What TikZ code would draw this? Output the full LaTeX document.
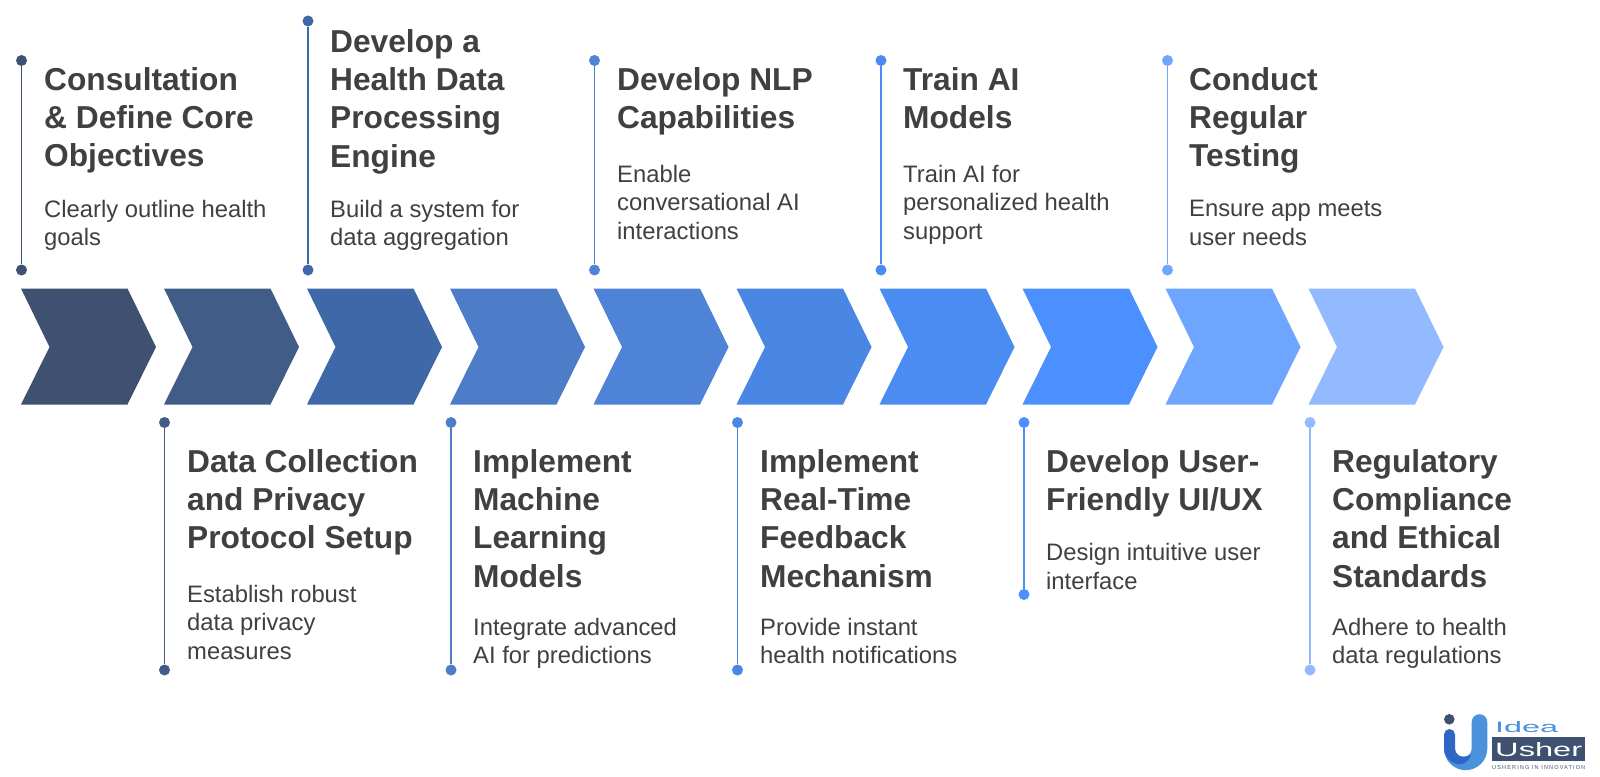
\documentclass[tikz,border=0pt]{standalone}
\usepackage{fontspec}
\setmainfont{Liberation Sans}
\definecolor{c0}{HTML}{3F5170}
\definecolor{c1}{HTML}{405C87}
\definecolor{c2}{HTML}{3F68A8}
\definecolor{c3}{HTML}{4D7DC8}
\definecolor{c4}{HTML}{4F83D8}
\definecolor{c5}{HTML}{4A86E3}
\definecolor{c6}{HTML}{4B8CF2}
\definecolor{c7}{HTML}{4C8FFF}
\definecolor{c8}{HTML}{6DA5FF}
\definecolor{c9}{HTML}{93B9FF}
\definecolor{ink}{HTML}{404040}
\definecolor{logoR}{HTML}{4A93DC}
\definecolor{logoL}{HTML}{2F66C4}
\tikzset{x=1pt,y=-1pt,
 chev/.style={fill=#1,draw=none},
 pin/.style={draw=#1,line width=1.8pt},
 dotb/.style={circle,fill=#1,inner sep=0pt,minimum size=11pt},
 ttl/.style={anchor=north west,align=left,text=ink,font=\fontsize{31.7}{38.3}\selectfont\bfseries,inner sep=0pt},
 dsc/.style={anchor=north west,align=left,text=ink,font=\fontsize{23.8}{28.5}\selectfont,inner sep=0pt},
}
\newcommand{\chevron}[2]{\fill[chev=#2] (#1+0,288.5)--(#1+106.5,288.5)--(#1+135,347)--(#1+106.5,404.5)--(#1+0,404.5)--(#1+28.5,347)--cycle;}
\begin{document}
\begin{tikzpicture}
\useasboundingbox (0,0) rectangle (1600,776);
\fill[white] (0,0) rectangle (1600,776);
\chevron{21}{c0}
\chevron{164}{c1}
\chevron{307}{c2}
\chevron{450}{c3}
\chevron{593.5}{c4}
\chevron{736.5}{c5}
\chevron{879.5}{c6}
\chevron{1022.5}{c7}
\chevron{1165.5}{c8}
\chevron{1308.5}{c9}
% top items
\node[dotb=c0] (a1) at (21.5,60.5) {}; \node[dotb=c0] (b1) at (21.5,270) {}; \draw[pin=c0] (a1)--(b1);
\node[dotb=c2] (a3) at (308,21) {}; \node[dotb=c2] (b3) at (308,270) {}; \draw[pin=c2] (a3)--(b3);
\node[dotb=c4] (a5) at (594.5,60.5) {}; \node[dotb=c4] (b5) at (594.5,270) {}; \draw[pin=c4] (a5)--(b5);
\node[dotb=c6] (a7) at (881,60.5) {}; \node[dotb=c6] (b7) at (881,270) {}; \draw[pin=c6] (a7)--(b7);
\node[dotb=c8] (a9) at (1167.5,60.5) {}; \node[dotb=c8] (b9) at (1167.5,270) {}; \draw[pin=c8] (a9)--(b9);
% bottom items
\node[dotb=c1] (a2) at (164.5,422.5) {}; \node[dotb=c1] (b2) at (164.5,670) {}; \draw[pin=c1] (a2)--(b2);
\node[dotb=c3] (a4) at (451,422.5) {}; \node[dotb=c3] (b4) at (451,670) {}; \draw[pin=c3] (a4)--(b4);
\node[dotb=c5] (a6) at (737.5,422.5) {}; \node[dotb=c5] (b6) at (737.5,670) {}; \draw[pin=c5] (a6)--(b6);
\node[dotb=c7] (a8) at (1024,422.5) {}; \node[dotb=c7] (b8) at (1024,594.5) {}; \draw[pin=c7] (a8)--(b8);
\node[dotb=c9] (a10) at (1310,422.5) {}; \node[dotb=c9] (b10) at (1310,670) {}; \draw[pin=c9] (a10)--(b10);
% titles
\node[ttl] (t1) at (44,67) {Consultation\\\& Define Core\\Objectives};
\node[dsc] (d1) at (44,200) {Clearly outline health\\goals};
\node[ttl] (t3) at (330,29) {Develop a\\Health Data\\Processing\\Engine};
\node[dsc] (d3) at (330,200) {Build a system for\\data aggregation};
\node[ttl] (t5) at (617,67) {Develop NLP\\Capabilities};
\node[dsc] (d5) at (617,165) {Enable\\conversational AI\\interactions};
\node[ttl] (t7) at (903,67) {Train AI\\Models};
\node[dsc] (d7) at (903,165) {Train AI for\\personalized health\\support};
\node[ttl] (t9) at (1189,67) {Conduct\\Regular\\Testing};
\node[dsc] (d9) at (1189,200) {Ensure app meets\\user needs};
\node[ttl] (t2) at (187,449) {Data Collection\\and Privacy\\Protocol Setup};
\node[dsc] (d2) at (187,585) {Establish robust\\data privacy\\measures};
\node[ttl] (t4) at (473,449) {Implement\\Machine\\Learning\\Models};
\node[dsc] (d4) at (473,618) {Integrate advanced\\AI for predictions};
\node[ttl] (t6) at (760,449) {Implement\\Real-Time\\Feedback\\Mechanism};
\node[dsc] (d6) at (760,618) {Provide instant\\health notifications};
\node[ttl] (t8) at (1046,449) {Develop User-\\Friendly UI/UX};
\node[dsc] (d8) at (1046,543.5) {Design intuitive user\\interface};
\node[ttl] (t10) at (1332,449) {Regulatory\\Compliance\\and Ethical\\Standards};
\node[dsc] (d10) at (1332,618) {Adhere to health\\data regulations};
% logo
\fill[logoR] (1471.7,722) arc[start angle=180,delta angle=180,radius=7.8] -- (1487.3,748.5) arc[start angle=0,delta angle=180,radius=21.65] -- (1455,748.5) arc[start angle=180,delta angle=-180,radius=8.35] -- cycle;
\fill[logoL] (1444,734.5) arc[start angle=180,delta angle=180,radius=5.5] -- (1455,748.5) .. controls (1455,756) and (1462,759) .. (1471,755) .. controls (1468,765) and (1458,766) .. (1452,762) .. controls (1447,759) and (1444,754) .. (1444,748.5) -- cycle;
\fill[c0] (1449.3,719.3) circle (5.3);
\node[anchor=south west,inner sep=0pt,text=logoR] (idea) at (1495,733) {\resizebox{63pt}{11pt}{Idea}};
\node[anchor=north west,fill=c0,inner sep=0pt,minimum width=93pt,minimum height=24pt] (ush) at (1492,737) {};
\node[inner sep=0pt,text=white] (ushtxt) at (ush.center) {\resizebox{87pt}{14pt}{Usher}};
\node[anchor=north west,inner sep=0pt,text=c0] (tag) at (1492,765) {\resizebox{93pt}{4pt}{\addfontfeature{LetterSpace=20}USHERING IN INNOVATION}};
\end{tikzpicture}
\end{document}
